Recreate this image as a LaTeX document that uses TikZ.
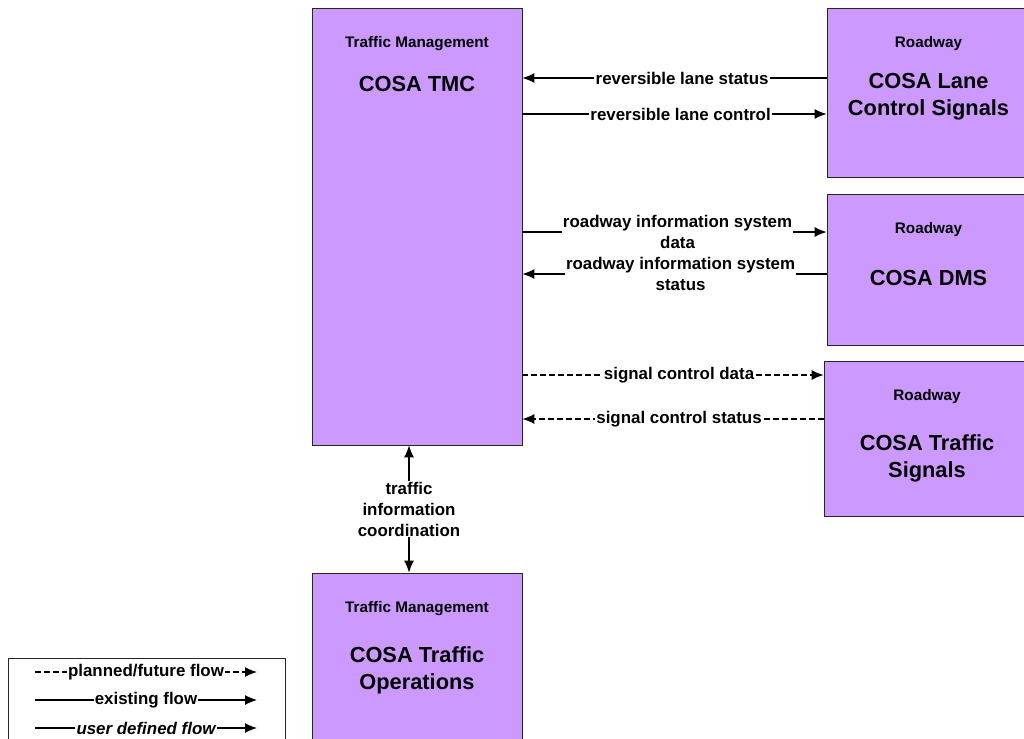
\documentclass[tikz,border=0pt]{standalone}
\usepackage{fontspec}
\setmainfont{Liberation Sans}
\usepackage{tikz}
\usetikzlibrary{arrows.meta,calc,positioning}
\definecolor{archpurple}{RGB}{204,153,255}

\begin{document}
\begin{tikzpicture}[
    x=1pt, y=-1pt,
    >={Latex[length=12pt,width=10pt]},
    sysbox/.style={draw=black!85, line width=0.8pt, fill=archpurple, inner sep=0pt},
    cat/.style={font=\fontsize{15.3}{18}\selectfont\bfseries},
    systitle/.style={font=\fontsize{21.8}{27}\selectfont\bfseries, align=center},
    flowlabel/.style={fill=white, inner sep=1.2pt, align=center, font=\fontsize{16.9}{21}\selectfont\bfseries},
    flow/.style={line width=1.2pt},
    planned/.style={flow, dash pattern=on 6pt off 3pt}
]
\useasboundingbox (0,0) rectangle (1024,738);

% systems
\node[sysbox, minimum width=210, minimum height=437] (tmc) at (417,226.5) {};
\node[sysbox, minimum width=203, minimum height=169] (lcs) at (928.5,92.5) {};
\node[sysbox, minimum width=203, minimum height=151] (dms) at (928.5,269.5) {};
\node[sysbox, minimum width=206, minimum height=155] (sig) at (927,438.5) {};
\node[sysbox, minimum width=210, minimum height=187] (ops) at (417,666.5) {};

\node[cat] at ($(tmc.north)+(0,36)$) {Traffic Management};
\node[systitle] at ($(tmc.north)+(0,76)$) {COSA TMC};
\node[cat] at ($(lcs.north)+(0,36)$) {Roadway};
\node[systitle] at ($(lcs.north)+(0,89.5)$) {COSA Lane\\Control Signals};
\node[cat] at ($(dms.north)+(0,36)$) {Roadway};
\node[systitle] at ($(dms.north)+(0,84)$) {COSA DMS};
\node[cat] at ($(sig.north)+(0,36)$) {Roadway};
\node[systitle] at ($(sig.north)+(0,97.5)$) {COSA Traffic\\Signals};
\node[cat] at ($(ops.north)+(0,36)$) {Traffic Management};
\node[systitle] at ($(ops.north)+(0,97.5)$) {COSA Traffic\\Operations};

% flows
\draw[flow, ->] (lcs.west |- 0,78) -- node[flowlabel, pos=0.475] {reversible lane status} (tmc.east |- 0,78);
\draw[flow, ->] (tmc.east |- 0,114) -- node[flowlabel, pos=0.52] {reversible lane control} (lcs.west |- 0,114);
\draw[flow, ->] (tmc.east |- 0,232) -- node[flowlabel, pos=0.51] {roadway information system\\data} (dms.west |- 0,232);
\draw[flow, ->] (dms.west |- 0,274) -- node[flowlabel, pos=0.48] {roadway information system\\status} (tmc.east |- 0,274);
\draw[planned, ->] (tmc.east |- 0,375) -- node[flowlabel, pos=0.52] {signal control data} (sig.west |- 0,375);
\draw[planned, ->] (sig.west |- 0,419) -- node[flowlabel, pos=0.48] {signal control status} (tmc.east |- 0,419);
\draw[flow, <->] (tmc.south -| 409,0) -- node[flowlabel] {traffic\\information\\coordination} (ops.north -| 409,0);

% legend
\node[draw=black!85, line width=0.8pt, fill=white, minimum width=277, minimum height=102] (legend) at (146.5,709) {};
\coordinate (plA) at (35,672);
\coordinate (plB) at (257,672);
\coordinate (exA) at (35,700);
\coordinate (exB) at (257,700);
\coordinate (udA) at (35,728);
\coordinate (udB) at (257,728);
\draw[planned, ->] (plA) -- node[flowlabel] {planned/future flow} (plB);
\draw[flow, ->] (exA) -- node[flowlabel] {existing flow} (exB);
\draw[flow, ->] (udA) -- node[flowlabel, font=\fontsize{16.9}{21}\selectfont\bfseries\itshape] {user defined flow} (udB);
\end{tikzpicture}
\end{document}
